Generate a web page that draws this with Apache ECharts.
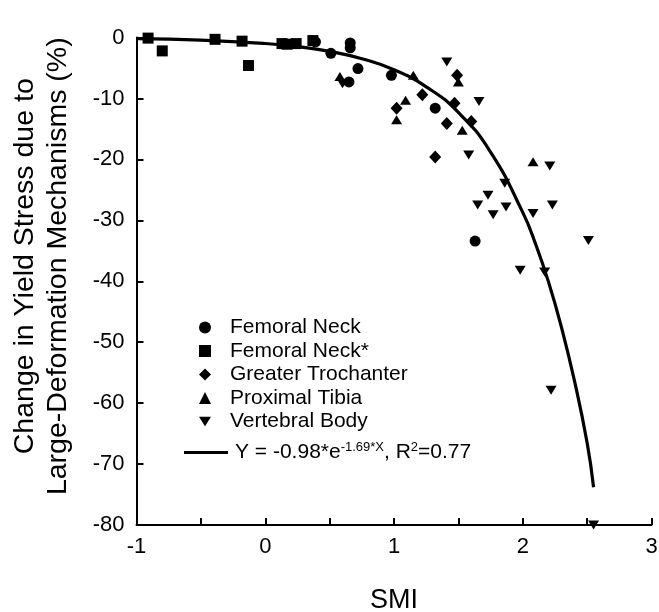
<!DOCTYPE html>
<html>
<head>
<meta charset="utf-8">
<script src="https://cdn.jsdelivr.net/npm/echarts@6/dist/echarts.min.js"></script>
<style>
	html, body { margin: 0; padding: 0; background: #fff; }
	#chart { width: 659px; height: 612px; }
</style>
</head>
<body>
<div id="chart"></div>
<script>
// SMI / change in yield stress (%)
var femoralNeck = [
	[0.39, -0.7], [0.51, -2.6], [0.66, -0.9], [0.66, -1.7], [0.72, -5.1],
	[0.65, -7.3], [0.98, -6.2], [1.32, -11.6], [1.63, -33.4]
]
var femoralNeckStar = [
	[-0.91, -0.1], [-0.80, -2.2], [-0.39, -0.3], [-0.18, -0.6], [-0.13, -4.6],
	[0.13, -1.0], [0.17, -1.1], [0.24, -1.0], [0.37, -0.5]
]
var greaterTrochanter = [
	[1.02, -11.6], [1.22, -9.4], [1.41, -14.1], [1.32, -19.6], [1.49, -6.2],
	[1.47, -10.8], [1.60, -13.8]
]
var proximalTibia = [
	[0.58, -6.4], [1.15, -6.2], [1.09, -10.3], [1.02, -13.5], [1.53, -15.2],
	[1.50, -7.3], [2.08, -20.4]
]
var vertebralBody = [
	[0.60, -7.6], [1.41, -4.0], [1.66, -10.5], [1.58, -19.3], [2.21, -21.1],
	[1.73, -25.9], [1.65, -27.5], [1.87, -27.8], [1.77, -29.1], [2.08, -28.9],
	[2.23, -27.5], [2.51, -33.3], [1.98, -38.2], [2.17, -38.5], [2.22, -57.9],
	[2.55, -80.0], [1.86, -23.9]
]
// fitted curve, points
var fitX = [-1, -0.5, 0, 0.25, 0.5, 0.75, 1, 1.25, 1.5, 1.75, 2, 2.1, 2.2, 2.3, 2.4, 2.5, 2.55]
var fitY = [-0.18, -0.42, -0.98, -1.49, -2.28, -3.48, -5.3, -8.09, -12.3, -18.8, -28.7, -33.9, -40.1, -47.5, -56.2, -66.5, -73.8]

var xTicks = { min: -1, max: 3, step: 0.5 }
var yTicks = { min: -80, max: 0, step: 10 }

var font = "'Liberation Sans', Arial, sans-serif"

function scatter(name, data, symbol, size, rotate) {
	return {
		name: name,
		type: "scatter",
		data: data,
		symbol: symbol,
		symbolSize: size,
		symbolRotate: rotate || 0,
		itemStyle: { color: "#000", opacity: 1 },
		z: 3
	}
}

var chart = echarts.init(document.getElementById("chart"), null, { renderer: "canvas" })
chart.setOption({
	animation: false,
	backgroundColor: "#fff",
	grid: {
		left: 136.5, right: 7.5, top: 37.5, bottom: 87,
		containLabel: false,
		outerBoundsMode: "none"
	},
	xAxis: {
		type: "value",
		min: xTicks.min,
		max: xTicks.max,
		interval: xTicks.step,
		name: "SMI",
		nameLocation: "middle",
		nameGap: 62,
		nameTextStyle: { fontFamily: font, fontSize: 27, color: "#000" },
		axisLine: { show: true, onZero: false, lineStyle: { color: "#000", width: 2 } },
		axisTick: { show: true, inside: true, length: 7, lineStyle: { color: "#000", width: 2 } },
		axisLabel: {
			fontFamily: font, fontSize: 22, color: "#000", margin: 11,
			formatter: function(v) { return Number.isInteger(v) ? String(v) : "" }
		},
		splitLine: { show: false }
	},
	yAxis: {
		type: "value",
		min: yTicks.min,
		max: yTicks.max,
		interval: yTicks.step,
		name: "Change in Yield Stress due to\nLarge-Deformation Mechanisms (%)",
		nameLocation: "middle",
		nameGap: 62,
		nameTextStyle: {
			fontFamily: font, fontSize: 28.5, color: "#000", lineHeight: 33,
			padding: [0, 0, 0, 30]
		},
		axisLine: { show: true, onZero: false, lineStyle: { color: "#000", width: 2 } },
		axisTick: { show: true, inside: true, length: 7, lineStyle: { color: "#000", width: 2 } },
		axisLabel: { fontFamily: font, fontSize: 22, color: "#000", margin: 12 },
		splitLine: { show: false }
	},
	legend: [
		{
			orient: "vertical",
			left: 194,
			top: 312,
			itemWidth: 12,
			itemHeight: 12,
			itemGap: 2.5,
			selectedMode: false,
			textStyle: { fontFamily: font, fontSize: 21, color: "#000", lineHeight: 20.8, padding: [0, 0, 0, 14] },
			data: [
				{ name: "Femoral Neck", icon: "circle" },
				{ name: "Femoral Neck*", icon: "rect" },
				{ name: "Greater Trochanter", icon: "diamond" },
				{ name: "Proximal Tibia", icon: "triangle" },
				{ name: "Vertebral Body", icon: "path://M0,0L10,0L5,8Z" }
			]
		},
		{
			orient: "vertical",
			left: 179,
			top: 436,
			itemWidth: 44,
			itemHeight: 3,
			selectedMode: false,
			textStyle: {
				fontFamily: font, fontSize: 21, color: "#000", padding: [0, 0, 0, 2],
				rich: {
					n: { fontFamily: font, fontSize: 21, color: "#000" },
					s: { fontFamily: font, fontSize: 13, color: "#000", verticalAlign: "top", padding: [0, 0, 10, 0] }
				}
			},
			formatter: function() {
				return "{n|Y = -0.98*e}{s|-1.69*X}{n|, R}{s|2}{n|=0.77}"
			},
			data: [{ name: "fit", icon: "rect", itemStyle: { color: "#000" } }]
		}
	],
	series: [
		scatter("Femoral Neck", femoralNeck, "circle", 11),
		scatter("Femoral Neck*", femoralNeckStar, "rect", 11),
		scatter("Greater Trochanter", greaterTrochanter, "diamond", [12, 13]),
		scatter("Proximal Tibia", proximalTibia, "triangle", [11, 9]),
		scatter("Vertebral Body", vertebralBody, "triangle", [11, 9], 180),
		{
			name: "fit",
			type: "line",
			data: fitX.map(function(x, i) { return [x, fitY[i]] }),
			smooth: true,
			showSymbol: false,
			symbol: "none",
			lineStyle: { color: "#000", width: 3.2 },
			itemStyle: { color: "#000" },
			z: 2
		}
	]
})
</script>
</body>
</html>
